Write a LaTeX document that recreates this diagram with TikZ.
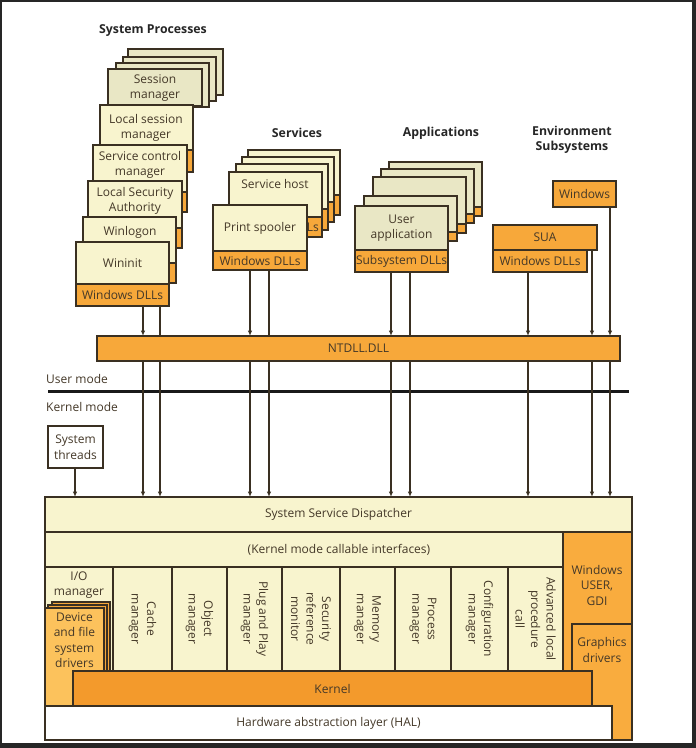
\documentclass[tikz,border=0pt]{standalone}
\usepackage{fontspec}
\setmainfont{Open Sans}
\usetikzlibrary{arrows.meta}
\definecolor{beige}{RGB}{248,244,206}
\definecolor{beigeg}{RGB}{233,231,197}
\definecolor{orng}{RGB}{247,168,58}
\definecolor{kern}{RGB}{243,154,44}
\definecolor{gdio}{RGB}{249,172,62}
\definecolor{drvo}{RGB}{252,194,92}
\definecolor{bord}{RGB}{58,48,34}
\definecolor{txt}{RGB}{68,56,40}
\newcommand{\bodyf}{\fontsize{12}{15.5}\selectfont}
\newcommand{\titlef}{\fontsize{12.3}{14.5}\selectfont\bfseries}
\newcommand{\mkbox}[7]{\node[boxs,#6,minimum width={(#4-#2)*1pt},minimum height={(#5-#3)*1pt}] (#1) at ({(#2+#4)/2},{(#3+#5)/2}) {#7};}
\begin{document}
\begin{tikzpicture}[x=1pt,y=-1pt,
  boxs/.style={draw=bord,line width=1.2pt,inner sep=0pt,outer sep=0pt,text=txt,align=center,font=\bodyf},
  lbl/.style={inner sep=0pt,text=txt,align=center,font=\bodyf},
  ttl/.style={inner sep=0pt,text=black!85,align=center,font=\titlef},
  arr/.style={draw=bord,line width=1.1pt,-{Latex[length=5.5pt,width=4.5pt]}},
  plain/.style={draw=bord,line width=1.1pt}]
\useasboundingbox (0,0) rectangle (696,748);
\fill[black!85] (0,0) rectangle (696,748);
\fill[white] (2,2) rectangle (692,743);
% titles
\node[ttl] (tsp) at (153,31) {System Processes};
\node[ttl] (tsv) at (297,133) {Services};
\node[ttl] (tap) at (441,133) {Applications};
\node[ttl] (tenv) at (572,140) {Environment\\Subsystems};
% system processes
\mkbox{sm3}{128}{49}{223}{95}{fill=beigeg}{}
\mkbox{sm2}{123}{57}{216}{101}{fill=beigeg}{}
\mkbox{sm1}{116}{63}{209}{107}{fill=beigeg}{}
\mkbox{smgr}{108}{69}{202}{106}{fill=beigeg}{}
\node[lbl] (smgrt) at (155,88) {Session\\manager};
\mkbox{lsm}{100}{105}{193}{150}{fill=beige}{}
\mkbox{lsmd}{100}{150}{193}{172}{fill=orng}{}
\node[lbl] (lsmt) at (146,128) {Local session\\manager};
\mkbox{scm}{93}{145}{187}{192}{fill=beige}{}
\mkbox{scmd}{93}{192}{187}{212}{fill=orng}{}
\node[lbl] (scmt) at (140,165) {Service control\\manager};
\mkbox{lsa}{88}{181}{182}{228}{fill=beige}{}
\mkbox{lsad}{88}{228}{182}{248}{fill=orng}{}
\node[lbl] (lsat) at (135,201) {Local Security\\Authority};
\mkbox{wlg}{83}{217}{176}{263}{fill=beige}{}
\mkbox{wlgd}{83}{263}{176}{283}{fill=orng}{}
\node[lbl] (wlgt) at (130,232) {Winlogon};
\mkbox{wini}{76}{242}{169}{284}{fill=beige}{Wininit}
\mkbox{winid}{76}{284}{169}{306}{fill=orng}{Windows DLLs}
% services
\mkbox{sv3}{248}{150}{340}{195}{fill=beige}{}
\mkbox{sv3d}{248}{195}{340}{215}{fill=orng}{}
\mkbox{sv2}{242}{157}{334}{202}{fill=beige}{}
\mkbox{sv2d}{242}{202}{334}{222}{fill=orng}{}
\mkbox{sv1}{236}{164}{328}{209}{fill=beige}{}
\mkbox{sv1d}{236}{209}{328}{230}{fill=orng}{}
\mkbox{svh}{229}{172}{322}{217}{fill=beige}{}
\mkbox{svhd}{229}{217}{322}{237}{fill=orng}{}
\node[lbl,anchor=east] (svhdt) at (319,227) {Ls};
\node[lbl] (svht) at (275,184) {Service host};
\mkbox{spl}{213}{205}{307}{251}{fill=beige}{Print spooler}
\mkbox{spld}{213}{251}{307}{270}{fill=orng}{Windows DLLs}
% applications
\mkbox{ap4}{389}{162}{482}{207}{fill=beigeg}{}
\mkbox{ap4d}{389}{207}{482}{216}{fill=orng}{}
\mkbox{ap3}{381}{169}{474}{214}{fill=beigeg}{}
\mkbox{ap3d}{381}{214}{474}{223}{fill=orng}{}
\mkbox{ap2}{373}{177}{466}{224}{fill=beigeg}{}
\mkbox{ap2d}{373}{224}{466}{233}{fill=orng}{}
\mkbox{ap1}{364}{196}{457}{232}{fill=beigeg}{}
\mkbox{ap1d}{364}{232}{457}{241}{fill=orng}{}
\mkbox{uap}{355}{206}{448}{250}{fill=beigeg}{User\\application}
\mkbox{uapd}{355}{250}{448}{272}{fill=orng}{Subsystem DLLs}
% environment subsystems
\mkbox{wenv}{553}{181}{616}{207}{fill=orng}{Windows}
\mkbox{sua}{493}{225}{597}{250}{fill=orng}{SUA}
\mkbox{suad}{493}{250}{587}{272}{fill=orng}{Windows DLLs}
% modes
\node[lbl,anchor=west] (um) at (46,379) {User mode};
\node[lbl,anchor=west] (km) at (46,407) {Kernel mode};
\coordinate (ml) at (48,391);
\coordinate (mr) at (629,391);
\draw[line width=3pt,draw=black!90] (ml) -- (mr);
\mkbox{sth}{48}{426}{103}{468}{fill=white}{System\\threads}
% kernel side
\mkbox{ssd}{45}{497}{632}{532}{fill=beige}{System Service Dispatcher}
\mkbox{kci}{45}{532}{563}{567}{fill=beige}{}
\node[lbl] (kcit) at (339,550) {(Kernel mode callable interfaces)};
\mkbox{gdi}{563}{532}{632}{740}{fill=gdio}{}
\node[lbl] (gdit) at (597,585) {Windows\\USER,\\GDI};
\mkbox{gdrv}{572}{624}{632}{740}{fill=gdio}{}
\node[lbl] (gdrvt) at (602,650) {Graphics\\drivers};
\mkbox{iom}{45}{567}{113}{671}{fill=beige}{}
\node[lbl] (iomt) at (79,585) {I/O\\manager};
\mkbox{cam}{113}{567}{172}{671}{fill=beige}{}
\node[lbl,rotate=-90] (camt) at (142.5,619) {Cache\\manager};
\mkbox{obm}{172}{567}{227}{671}{fill=beige}{}
\node[lbl,rotate=-90] (obmt) at (199.5,619) {Object\\manager};
\mkbox{pnp}{227}{567}{282}{671}{fill=beige}{}
\node[lbl,rotate=-90] (pnpt) at (254.5,619) {Plug and Play\\manager};
\mkbox{srm}{282}{567}{340}{671}{fill=beige}{}
\node[lbl,rotate=-90] (srmt) at (311,619) {Security\\reference\\monitor};
\mkbox{mem}{340}{567}{395}{671}{fill=beige}{}
\node[lbl,rotate=-90] (memt) at (367.5,619) {Memory\\manager};
\mkbox{prc}{395}{567}{451}{671}{fill=beige}{}
\node[lbl,rotate=-90] (prct) at (423,619) {Process\\manager};
\mkbox{cfg}{451}{567}{508}{671}{fill=beige}{}
\node[lbl,rotate=-90] (cfgt) at (479.5,619) {Configuration\\manager};
\mkbox{alpc}{508}{567}{563}{671}{fill=beige}{}
\node[lbl,rotate=-90] (alpct) at (535.5,619) {Advanced local\\procedure\\call};
\mkbox{drv2}{52}{602}{110}{706}{fill=orng}{}
\mkbox{drv1}{48}{605}{107}{706}{fill=orng}{}
\mkbox{drv}{45}{608}{104}{706}{fill=drvo}{}
\node[lbl] (drvt) at (74.5,640) {Device\\and file\\system\\drivers};
\mkbox{krn}{73}{671}{592}{706}{fill=kern}{Kernel}
\mkbox{hal}{45}{706}{612}{740}{fill=white}{Hardware abstraction layer (HAL)}
% connector x positions
\coordinate (x75) at (75,0);
\coordinate (x143) at (143,0);
\coordinate (x160) at (160,0);
\coordinate (x250) at (250,0);
\coordinate (x269) at (269,0);
\coordinate (x391) at (391,0);
\coordinate (x410) at (410,0);
\coordinate (x528) at (528,0);
\coordinate (x592) at (592,0);
\coordinate (x610) at (610,0);
% bypass lines (behind NTDLL)
\draw[arr] (winid.south -| x160) -- (ssd.north -| x160);
\draw[arr] (spld.south -| x269) -- (ssd.north -| x269);
\draw[arr] (uapd.south -| x410) -- (ssd.north -| x410);
% NTDLL
\mkbox{ntdll}{97}{336}{620}{361}{fill=orng}{NTDLL.DLL}
% arrows into NTDLL
\draw[arr] (winid.south -| x143) -- (ntdll.north -| x143);
\draw[arr] (spld.south -| x250) -- (ntdll.north -| x250);
\draw[arr] (uapd.south -| x391) -- (ntdll.north -| x391);
\draw[arr] (suad.south -| x528) -- (ntdll.north -| x528);
\draw[arr] (sua.south -| x592) -- (ntdll.north -| x592);
\draw[arr] (wenv.south -| x610) -- (ntdll.north -| x610);
% arrows from NTDLL to dispatcher
\draw[arr] (ntdll.south -| x143) -- (ssd.north -| x143);
\draw[arr] (ntdll.south -| x250) -- (ssd.north -| x250);
\draw[arr] (ntdll.south -| x391) -- (ssd.north -| x391);
\draw[arr] (ntdll.south -| x528) -- (ssd.north -| x528);
\draw[arr] (ntdll.south -| x592) -- (ssd.north -| x592);
\draw[arr] (ntdll.south -| x610) -- (ssd.north -| x610);
\draw[arr] (sth.south -| x75) -- (ssd.north -| x75);
\end{tikzpicture}
\end{document}
